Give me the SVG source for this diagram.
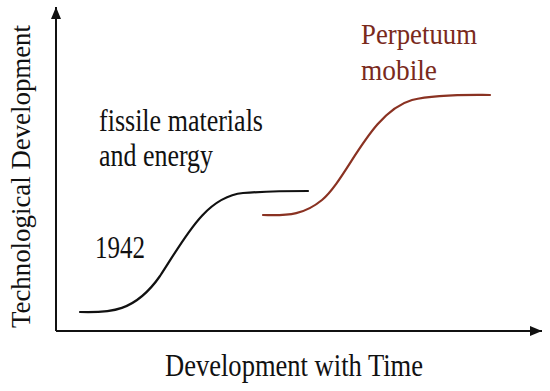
<svg xmlns="http://www.w3.org/2000/svg" width="550" height="391" viewBox="0 0 550 391">
<defs>
<style>
text{font-family:'Liberation Serif','Times New Roman',serif;fill:#111}
.b{font-size:31px}
.r{font-size:29px;fill:#7a2a1c}
.ax{stroke:#111;stroke-width:2;fill:none}
.c{fill:none;stroke-width:2.2;stroke-linecap:round}
</style>
<marker id="ah" viewBox="0 0 12 10" refX="12" refY="5" markerWidth="12" markerHeight="10" orient="auto" markerUnits="userSpaceOnUse">
<path d="M0,0 L12,5 L0,10 Z" fill="#111"/>
</marker>
</defs>
<rect width="550" height="391" fill="#fff"/>
<g id="axes">
<path class="ax" d="M56,331 L56,7" marker-end="url(#ah)"/>
<path class="ax" d="M56,331 L542,331" marker-end="url(#ah)"/>
</g>
<g id="connectors">
<path id="curve-1942" class="c" stroke="#111" d="M80,312 C110,313 135,312 160,276 C185,238 205,197 243,193 C270,191 290,191 308,191"/>
<path id="curve-perpetuum" class="c" stroke="#8a3222" d="M263,215 C290,216 305,214 322,200 C348,178 370,112 412,100 C438,94 470,95 490,95"/>
</g>
<g id="label-y"><text transform="translate(30,176.5) rotate(-90)" text-anchor="middle" font-size="28" textLength="303" lengthAdjust="spacingAndGlyphs">Technological Development</text></g>
<g id="label-x"><text class="b" x="294" y="376" text-anchor="middle" textLength="258" lengthAdjust="spacingAndGlyphs">Development with Time</text></g>
<g id="node-fissile"><text class="b" x="99" y="131" textLength="164" lengthAdjust="spacingAndGlyphs">fissile materials</text><text class="b" x="99" y="166" textLength="114" lengthAdjust="spacingAndGlyphs">and energy</text></g>
<g id="node-1942"><text class="b" x="95" y="258" textLength="50" lengthAdjust="spacingAndGlyphs">1942</text></g>
<g id="node-perpetuum"><text class="r" x="361" y="44" textLength="116" lengthAdjust="spacingAndGlyphs">Perpetuum</text><text class="r" x="361" y="80" textLength="76" lengthAdjust="spacingAndGlyphs">mobile</text></g>
</svg>
